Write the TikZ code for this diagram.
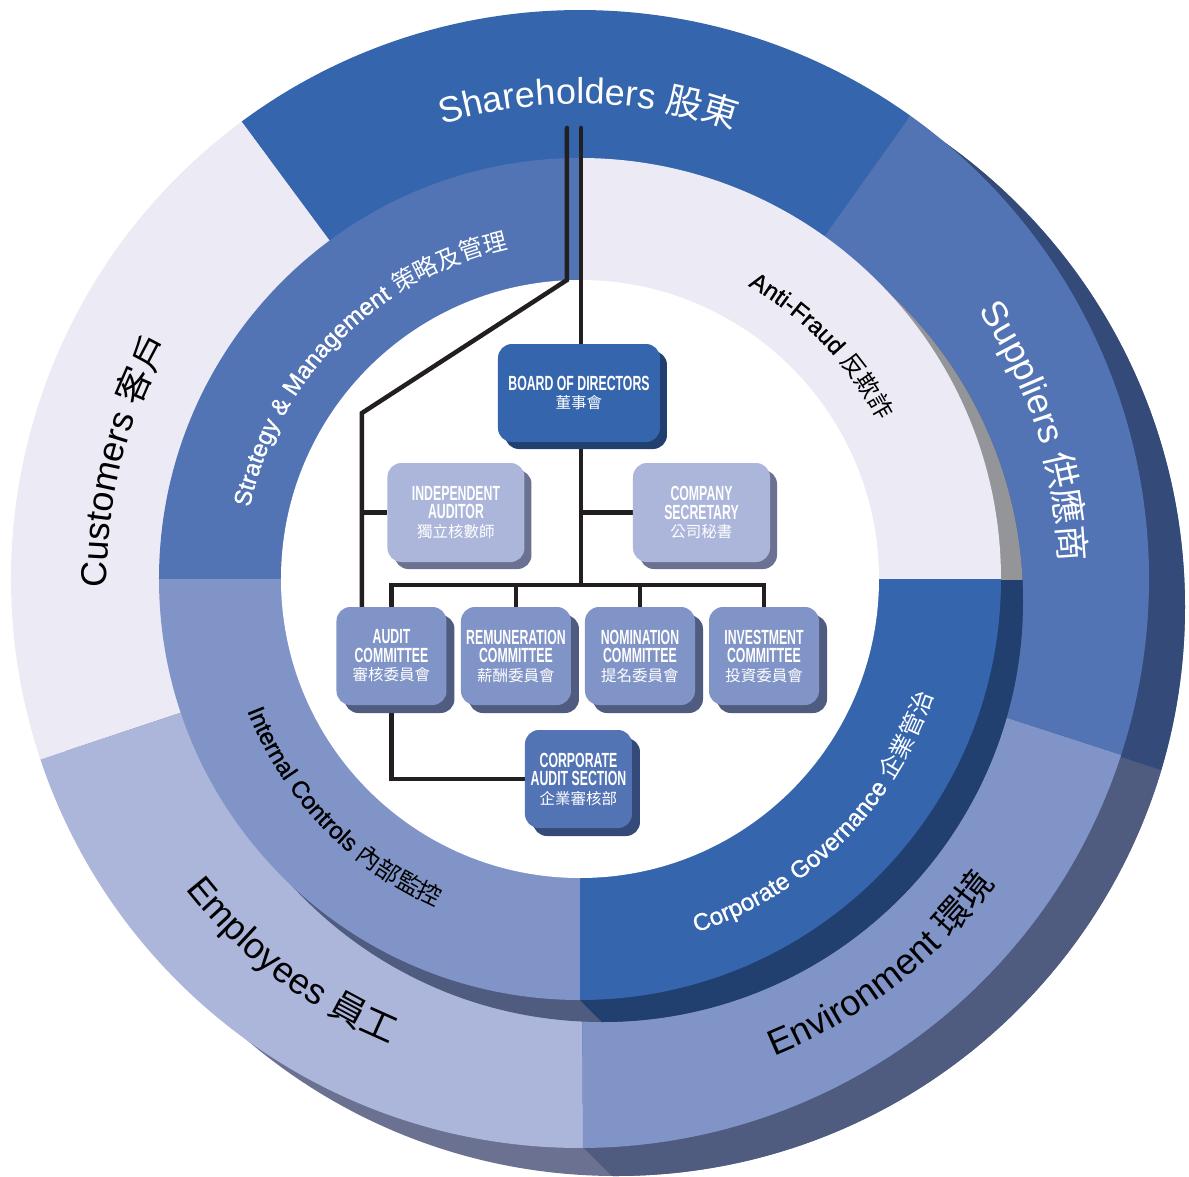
\documentclass[tikz,border=0pt]{standalone}
\usepackage{fontspec}
\setmainfont{Liberation Sans}
\newfontfamily\cjk{Noto Sans CJK TC}
\newfontfamily\narrowfont[FakeStretch=0.6]{Liberation Sans Bold}
\newfontfamily\midfont[FakeBold=1.1,LetterSpace=2]{Liberation Sans}
\usetikzlibrary{decorations.text,shadows}
\definecolor{cA}{HTML}{3565AD}
\definecolor{cB}{HTML}{5274B5}
\definecolor{cC}{HTML}{8194C7}
\definecolor{cD}{HTML}{ACB6DB}
\definecolor{cE}{HTML}{ECEBF5}
\definecolor{sA}{HTML}{213F6F}
\definecolor{sB}{HTML}{344A78}
\definecolor{sC}{HTML}{4F5C80}
\definecolor{sD}{HTML}{6B7191}
\definecolor{sG}{HTML}{939598}
\definecolor{ink}{HTML}{231F20}
\pgfdeclarelayer{bg}\pgfdeclarelayer{lines}\pgfsetlayers{bg,lines,main}
\newcommand\ringsector[4]{\fill[#1] (0,0) -- (#2:#4) arc[start angle=#2,end angle=#3,radius=#4] -- cycle;}
\newcommand\oL{\fontsize{36}{36}\selectfont}
\newcommand\oC{\cjk\fontsize{36}{36}\selectfont}
\newcommand\mL{\midfont\fontsize{24}{24}\selectfont}
\newcommand\mC{\cjk\fontsize{24}{24}\selectfont}
\newcommand\bC[1]{{\cjk\fontsize{15.5}{18.5}\selectfont #1}}
\tikzset{
  orgbox/.style={rounded corners=14pt, inner sep=0pt, align=center, text=white,
    font=\narrowfont\fontsize{20.5}{18.5}\selectfont},
  boardbox/.style={orgbox, fill=cA, minimum width=162pt, minimum height=98pt,
    drop shadow={shadow xshift=7pt,shadow yshift=-7pt,fill=sA,opacity=1}},
  sidebox/.style={orgbox, fill=cD, minimum width=137pt, minimum height=99pt,
    drop shadow={shadow xshift=7pt,shadow yshift=-7pt,fill=sD,opacity=1}},
  combox/.style={orgbox, fill=cC, minimum width=110pt, minimum height=98pt,
    drop shadow={shadow xshift=8pt,shadow yshift=-8pt,fill=sC,opacity=1}},
  casbox/.style={orgbox, fill=cB, minimum width=107pt, minimum height=98pt,
    drop shadow={shadow xshift=8pt,shadow yshift=-8pt,fill=sB,opacity=1}},
  conn/.style={draw=ink, line width=4.5pt},
  arclabel/.style={decorate, decoration={text along path, text align=center, text={#1}}}
}
\begin{document}
\begin{tikzpicture}[x=1pt,y=1pt]
\useasboundingbox (-580,-597) rectangle (609,579);

% ---------- org chart boxes ----------
\node[boardbox] (board) at (-1,186) {BOARD OF DIRECTORS\\\bC{董事會}};
\node[sidebox] (ind) at (-124,66.5) {INDEPENDENT\\AUDITOR\\\bC{獨立核數師}};
\node[sidebox] (comp) at (121.5,66.5) {COMPANY\\SECRETARY\\\bC{公司秘書}};
\node[combox] (audit) at (-188.5,-77) {AUDIT\\COMMITTEE\\\bC{審核委員會}};
\node[combox] (remun) at (-64,-77) {REMUNERATION\\COMMITTEE\\\bC{薪酬委員會}};
\node[combox] (nomin) at (60,-77) {NOMINATION\\COMMITTEE\\\bC{提名委員會}};
\node[combox] (invest) at (184,-77) {INVESTMENT\\COMMITTEE\\\bC{投資委員會}};
\node[casbox] (cas) at (-1.5,-200) {CORPORATE\\AUDIT SECTION\\\bC{企業審核部}};

\coordinate (t1) at (-13,451);
\coordinate (t2) at (1,451);
\coordinate (bend) at (-13,299);
\coordinate (lft) at (-218,166);
\coordinate (bus) at (0,-6);

% ---------- rings ----------
\begin{pgfonlayer}{bg}
  % outer shadow
  \fill[sD] (36,-28) circle[radius=569pt];
  \begin{scope}
    \clip (0,0) -- (3,-568) -- (250,-815) -- (900,-815) -- (900,-296) -- cycle;
    \fill[sC] (36,-28) circle[radius=569pt];
  \end{scope}
  \begin{scope}
    \clip (0,0) -- (900,-296) -- (900,700) -- (0,700) -- cycle;
    \fill[sB] (36,-28) circle[radius=569pt];
  \end{scope}
  % outer ring
  \ringsector{cA}{54.5}{126.5}{569pt}
  \ringsector{cE}{126.5}{198.5}{569pt}
  \ringsector{cD}{198.5}{270.3}{569pt}
  \ringsector{cC}{270.3}{342}{569pt}
  \ringsector{cB}{-18}{54.5}{569pt}
  % middle shadow
  \fill[sC] (22,-22) circle[radius=421pt];
  \begin{scope}
    \clip (0,0) -- (0,-421) -- (300,-721) -- (700,-721) -- (700,0) -- cycle;
    \fill[sA] (22,-22) circle[radius=421pt];
  \end{scope}
  \begin{scope}
    \clip (0,0) -- (700,0) -- (700,600) -- (0,600) -- cycle;
    \fill[sG] (22,-22) circle[radius=421pt];
  \end{scope}
  % middle ring
  \ringsector{cB}{90}{180}{421pt}
  \ringsector{cE}{0}{90}{421pt}
  \ringsector{cA}{-90}{0}{421pt}
  \ringsector{cC}{180}{270}{421pt}
  \fill[white] (0,0) circle[radius=299pt];

  % outer labels
  \path[arclabel={|\color{white}\oL|Shareholders |\color{white}\oC|股東}]
    (159:475pt) arc[start angle=159,end angle=19,radius=475pt];
  \path[arclabel={|\color{black}\oL|Customers |\color{black}\oC|客戶}]
    (235.5:473pt) arc[start angle=235.5,end angle=95.5,radius=473pt];
  \path[arclabel={|\color{white}\oL|Suppliers |\color{white}\oC|供應商}]
    (88:480pt) arc[start angle=88,end angle=-52,radius=480pt];
  \path[arclabel={|\color{black}\oL|Environment |\color{black}\oC|環境}]
    (-122:515pt) arc[start angle=-122,end angle=18,radius=515pt];
  \path[arclabel={|\color{black}\oL|Employees |\color{black}\oC|員工}]
    (-197:502pt) arc[start angle=-197,end angle=-57,radius=502pt];
  % middle labels
  \path[arclabel={|\color{white}\mL|Strategy {\&} Management |\color{white}\mC|策略及管理}]
    (205:338pt) arc[start angle=205,end angle=65,radius=338pt];
  \path[arclabel={|\color{black}\mL|Anti-Fraud |\color{black}\mC|反欺詐}]
    (114:338pt) arc[start angle=114,end angle=-26,radius=338pt];
  \path[arclabel={|\color{white}\mL|Corporate Governance |\color{white}\mC|企業管治}]
    (-115:372pt) arc[start angle=-115,end angle=25,radius=372pt];
  \path[arclabel={|\color{black}\mL|Internal Controls |\color{black}\mC|內部監控}]
    (-206:358pt) arc[start angle=-206,end angle=-66,radius=358pt];
\end{pgfonlayer}

% ---------- connectors ----------
\begin{pgfonlayer}{lines}
  \draw[conn, line cap=round] (t1) -- (bend) -- (lft) -- (lft |- audit.north);
  \draw[conn, line cap=round] (t2) -- (t2 |- board.north);
  \draw[conn] (t2 |- board.south) -- (t2 |- bus);
  \draw[conn] (comp.west -| t2) -- (comp.west);
  \draw[conn] (ind.west -| lft) -- (ind.west);
  \draw[conn] (audit.north) -- (audit.north |- bus) -- (invest.north |- bus) -- (invest.north);
  \draw[conn] (remun.north |- bus) -- (remun.north);
  \draw[conn] (nomin.north |- bus) -- (nomin.north);
  \draw[conn] (audit.south) -- (audit.south |- cas.west) -- (cas.west);
\end{pgfonlayer}
\end{tikzpicture}
\end{document}
